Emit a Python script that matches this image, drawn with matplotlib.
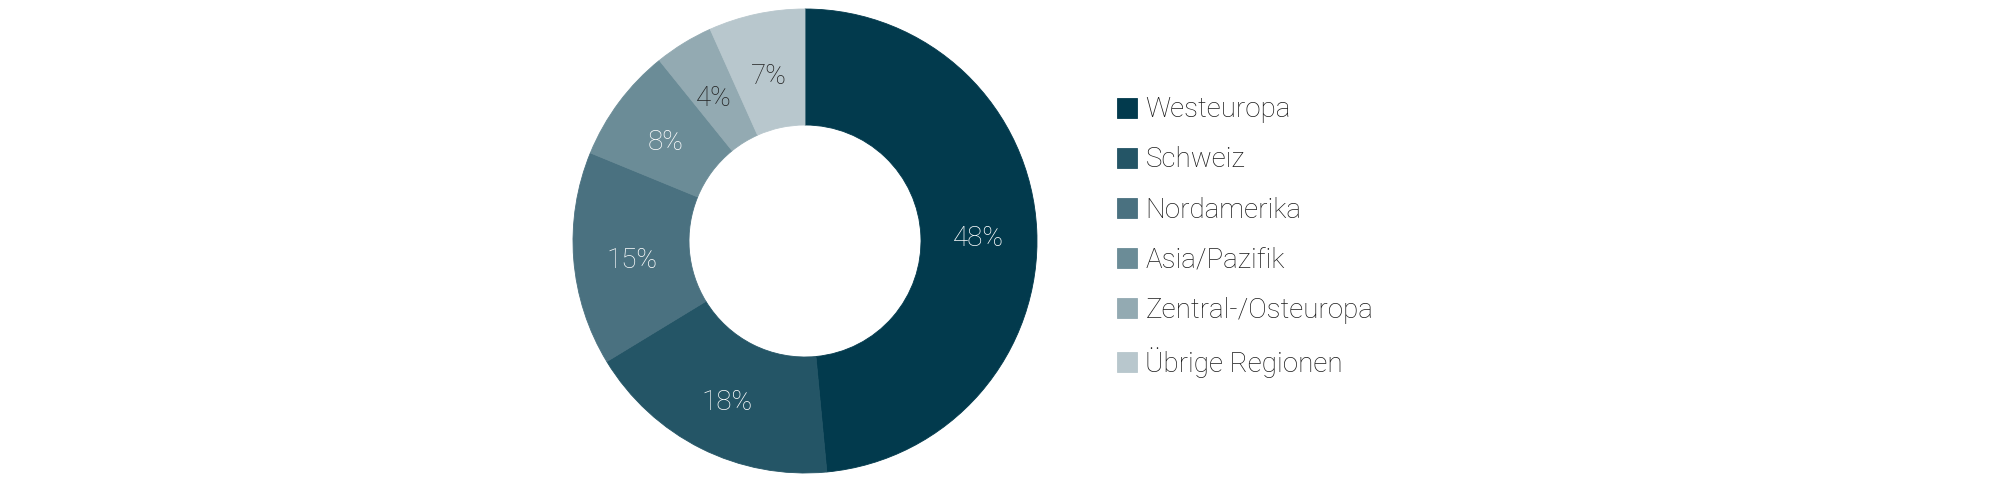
import matplotlib
matplotlib.use("Agg")
import matplotlib.pyplot as plt

categories = ["Westeuropa", "Schweiz", "Nordamerika", "Asia/Pazifik",
              "Zentral-/Osteuropa", "Übrige Regionen"]
values = [48.5, 17.8, 14.9, 8.0, 4.1, 6.7]
colors = ["#023A4D", "#245566", "#4A7180", "#6B8C97", "#93AAB2", "#B8C7CD"]
label_colors = ["white", "white", "white", "white", "#222222", "#222222"]

plt.rcParams['font.family'] = ['Roboto', 'DejaVu Sans']

W, H = 2008, 496
fig = plt.figure(figsize=(W / 100, H / 100), dpi=100)
cx, cy, r = 805, 241, 232
ax = fig.add_axes([(cx - r) / W, (H - cy - r) / H, 2 * r / W, 2 * r / H])

wedges, texts, autotexts = ax.pie(
    values, colors=colors, startangle=90, counterclock=False,
    radius=1.0, autopct=lambda p: f"{p:.0f}%", pctdistance=0.75,
    wedgeprops=dict(width=0.5, linewidth=0.6),
)
for w, c in zip(wedges, colors):
    w.set_edgecolor(c)
for t, c in zip(autotexts, label_colors):
    t.set_color(c)
    t.set_fontsize(20)
    t.set_fontweight('light')
    x, y = t.get_position()
    t.set_position((x, y - 0.025))
ax.set_xlim(-1, 1)
ax.set_ylim(-1, 1)
ax.set_aspect('equal')
ax.axis('off')

leg = fig.legend(wedges, categories, loc='center left',
                 bbox_to_anchor=(1117 / W, (H - 237) / H),
                 frameon=False, borderpad=0, borderaxespad=0,
                 handlelength=0.72, handleheight=0.72, handletextpad=0.3,
                 labelspacing=0.83, prop=dict(size=20, weight='light'))
for t in leg.get_texts():
    t.set_color('#1a1a1a')

fig.savefig("out.png", dpi=100)
